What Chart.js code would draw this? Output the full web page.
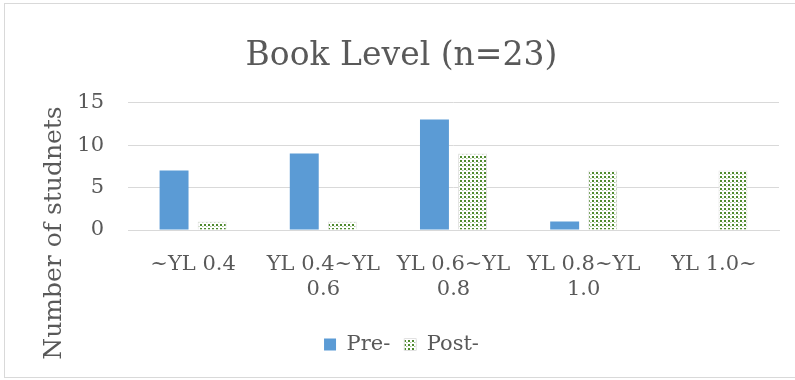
<!DOCTYPE html>
<html><head><meta charset="utf-8">
<script src="https://cdn.jsdelivr.net/npm/chart.js@4.4.0/dist/chart.umd.min.js"></script>
<style>
html,body{margin:0;padding:0;background:#fff;}
#wrap{position:absolute;left:0;top:0;width:795px;height:380px;}
#frame{position:absolute;left:4px;top:3px;width:800px;height:375px;border:1px solid #d9d9d9;box-sizing:border-box;}
canvas{position:absolute;left:0;top:0;}
</style></head>
<body>
<div id="wrap"><div id="frame"></div><canvas id="c" width="795" height="380"></canvas></div>
<script>
const categories = ["~YL 0.4", ["YL 0.4~YL","0.6"], ["YL 0.6~YL","0.8"], ["YL 0.8~YL","1.0"], "YL 1.0~"];
const preValues = [7, 9, 13, 1, 0];
const postValues = [1, 1, 9, 7, 7];
const seriesNames = ["Pre-", "Post-"];
const yTicks = [0, 5, 10, 15];
const chartTitle = "Book Level (n=23)";
const yTitle = "Number of studnets";

const FONT = "'DejaVu Serif', serif";
const TXT = "#595959";

function makePattern(){
  const p = document.createElement('canvas');
  p.width = 4; p.height = 4;
  const g = p.getContext('2d');
  g.fillStyle = '#ffffff'; g.fillRect(0,0,4,4);
  g.fillStyle = '#4f8a2e'; g.fillRect(0,0,2,2);
  g.fillStyle = '#a9c79a'; g.fillRect(2,2,1,1);
  g.fillStyle = '#d5e3cd'; g.fillRect(3,2,1,1);
  return document.getElementById('c').getContext('2d').createPattern(p,'repeat');
}
const pat = makePattern();

const yTitlePlugin = {
  id:'yTitle',
  afterDraw(chart){
    const ctx = chart.ctx;
    ctx.save();
    ctx.translate(54, 233);
    ctx.rotate(-Math.PI/2);
    ctx.font = "25px " + FONT;
    ctx.fillStyle = TXT;
    ctx.textAlign = 'center';
    ctx.textBaseline = 'middle';
    ctx.fillText(yTitle, 0, 0);
    ctx.restore();
  }
};

new Chart(document.getElementById('c'), {
  type:'bar',
  data:{
    labels: categories,
    datasets:[
      {label: seriesNames[0], data: preValues, backgroundColor:'#5b9bd5', borderColor:'#5b9bd5', borderWidth:0},
      {label: seriesNames[1], data: postValues, backgroundColor: pat, borderColor:'#e2e2e2', borderWidth:1}
    ]
  },
  options:{
    responsive:false, animation:false,
    layout:{padding:{left:24,right:16,top:0,bottom:15}},
    datasets:{bar:{categoryPercentage:0.585, barPercentage:0.76}},
    plugins:{
      title:{display:true, text: chartTitle, color:TXT, font:{family:FONT, size:33, weight:'normal'}, padding:{top:37,bottom:26}},
      legend:{position:'bottom', labels:{color:TXT, font:{family:FONT,size:21}, boxWidth:12, boxHeight:12, padding:14}},
      tooltip:{enabled:false}
    },
    scales:{
      x:{
        grid:{display:false, drawTicks:false},
        border:{color:'#d9d9d9', width:1},
        afterFit(s){ s.height = 90; },
        ticks:{color:TXT, font:{family:FONT,size:21}, maxRotation:0, autoSkip:false, padding:22}
      },
      y:{
        min:0, max:15,
        afterBuildTicks(s){ s.ticks = yTicks.map(v=>({value:v})); },
        afterFit(s){ s.width = 104; },
        grid:{color:'#d9d9d9', lineWidth:1, drawTicks:false},
        border:{display:false},
        ticks:{color:TXT, font:{family:FONT,size:21}, padding:24}
      }
    }
  },
  plugins:[yTitlePlugin]
});
</script>
</body></html>
